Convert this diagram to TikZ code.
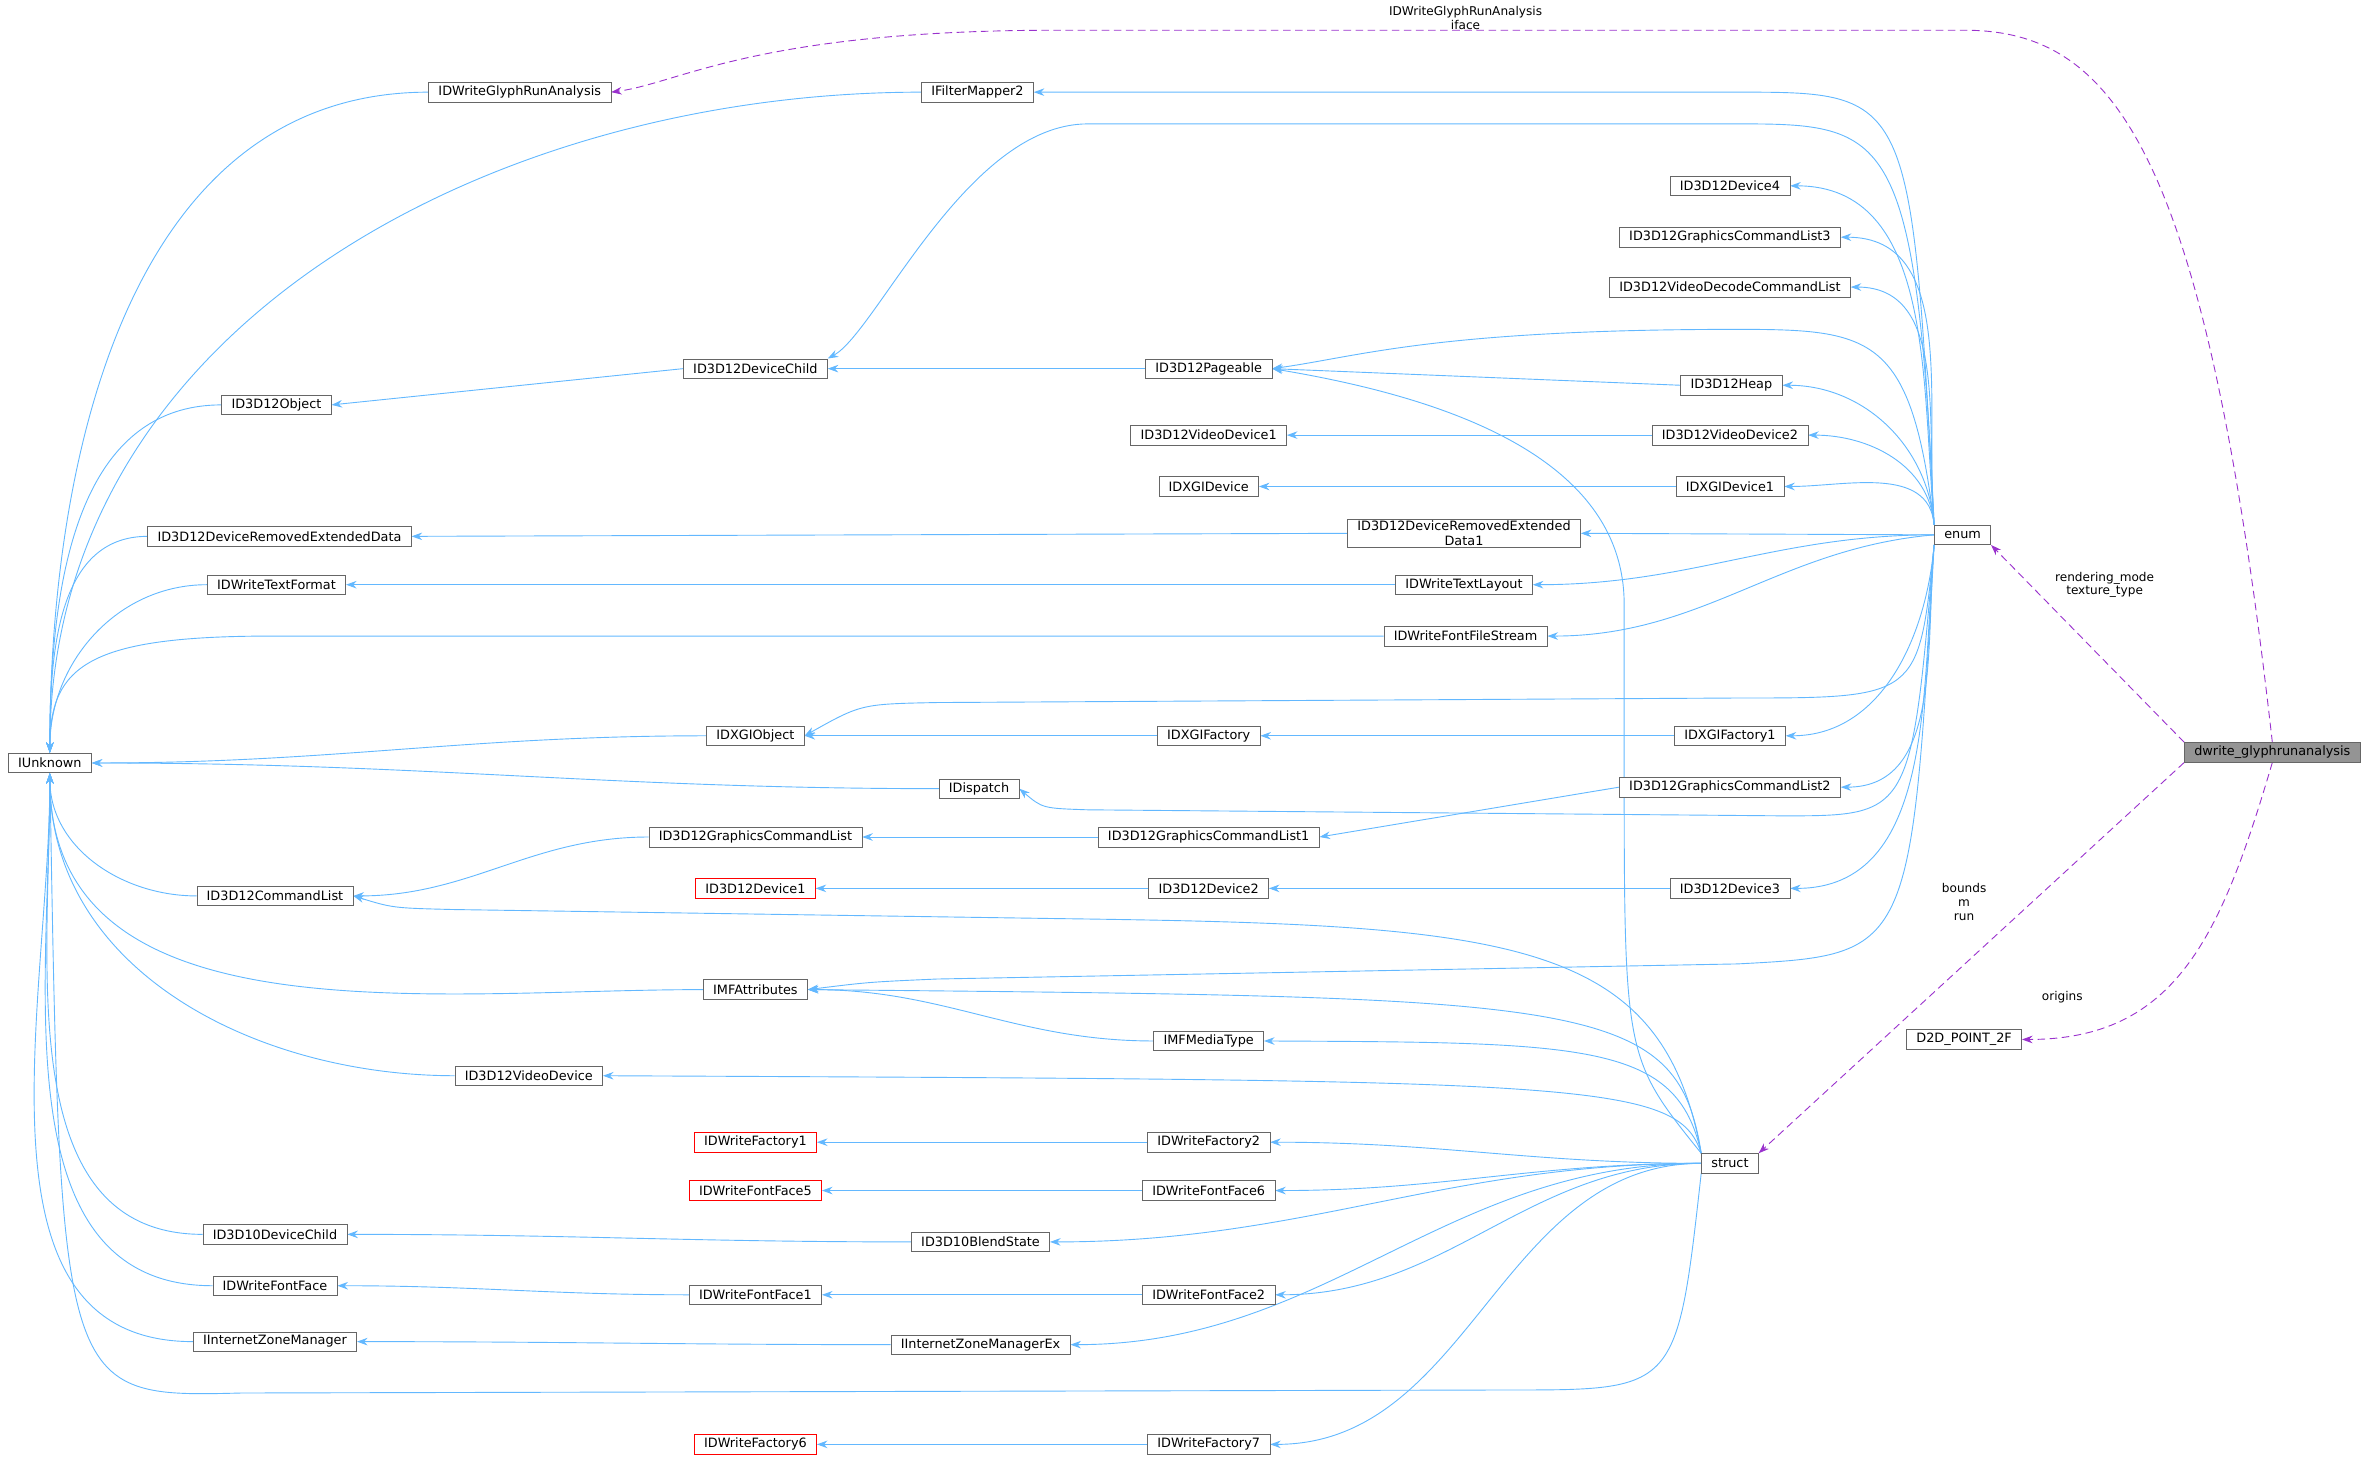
\documentclass[tikz,border=0pt]{standalone}
\usepackage{fontspec}
\setmainfont{DejaVu Sans}
\usetikzlibrary{arrows.meta,backgrounds}
\definecolor{eb}{HTML}{63B8FF}
\definecolor{ep}{HTML}{9A32CD}
\begin{document}
\begin{tikzpicture}[x=1pt,y=1pt,
  every node/.style={font=\fontsize{8.5}{10}\selectfont},
  n/.style={draw=black!60, fill=white, inner xsep=6.5pt, inner ysep=2pt, minimum height=13pt, align=center},
  r/.style={n, draw=red},
  inh/.style={draw=eb, line width=0.6pt, -{Stealth[length=7pt,width=5pt]}},
  usg/.style={draw=ep, line width=0.6pt, dashed, dash pattern=on 5pt off 3pt, -{Stealth[length=7pt,width=5pt]}},
  lab/.style={align=center, inner sep=0pt, font=\fontsize{8}{9}\selectfont}]
\useasboundingbox (0,0) rectangle (1568,-973);
% nodes
\node[n] (IU) at (33,-505) {IUnknown};
\node[n] (GRA) at (344,-61) {IDWriteGlyphRunAnalysis};
\node[n] (FM2) at (647,-61) {IFilterMapper2};
\node[n] (Obj) at (183,-268) {ID3D12Object};
\node[n] (DC) at (500,-244) {ID3D12DeviceChild};
\node[n] (DRED) at (185,-355) {ID3D12DeviceRemovedExtendedData};
\node[n] (TF) at (183,-387) {IDWriteTextFormat};
\node[n] (XO) at (500,-487) {IDXGIObject};
\node[n] (Disp) at (648,-522) {IDispatch};
\node[n] (GCL) at (500,-554) {ID3D12GraphicsCommandList};
\node[n] (CL) at (182,-593) {ID3D12CommandList};
\node[r] (D1) at (500,-588) {ID3D12Device1};
\node[n] (MFA) at (500,-655) {IMFAttributes};
\node[n] (VD) at (350,-712) {ID3D12VideoDevice};
\node[r] (F1) at (500,-756) {IDWriteFactory1};
\node[r] (FF5) at (500,-788) {IDWriteFontFace5};
\node[n] (D10) at (182,-817) {ID3D10DeviceChild};
\node[n] (BS) at (649,-822) {ID3D10BlendState};
\node[n] (FF) at (182,-851) {IDWriteFontFace};
\node[n] (FF1) at (500,-857) {IDWriteFontFace1};
\node[n] (IZM) at (182,-888) {IInternetZoneManager};
\node[n] (IZMX) at (649,-890) {IInternetZoneManagerEx};
\node[r] (F6) at (500,-956) {IDWriteFactory6};
\node[n] (Pg) at (800,-244) {ID3D12Pageable};
\node[n] (VD1) at (800,-288) {ID3D12VideoDevice1};
\node[n] (XD) at (800,-322) {IDXGIDevice};
\node[n] (XF) at (800,-487) {IDXGIFactory};
\node[n] (GCL1) at (800,-554) {ID3D12GraphicsCommandList1};
\node[n] (D2) at (800,-588) {ID3D12Device2};
\node[n] (MT) at (800,-689) {IMFMediaType};
\node[n] (F2) at (800,-756) {IDWriteFactory2};
\node[n] (FF6) at (800,-788) {IDWriteFontFace6};
\node[n] (FF2) at (800,-857) {IDWriteFontFace2};
\node[n] (F7) at (800,-956) {IDWriteFactory7};
\node[n] (D4) at (1145,-123) {ID3D12Device4};
\node[n] (GCL3) at (1145,-157) {ID3D12GraphicsCommandList3};
\node[n] (VDCL) at (1145,-190) {ID3D12VideoDecodeCommandList};
\node[n] (Heap) at (1146,-255) {ID3D12Heap};
\node[n] (VD2) at (1145,-288) {ID3D12VideoDevice2};
\node[n] (XD1) at (1145,-322) {IDXGIDevice1};
\node[n, inner ysep=1pt] (DRED1) at (969,-353) {ID3D12DeviceRemovedExtended\\Data1};
\node[n] (TL) at (969,-387) {IDWriteTextLayout};
\node[n] (FFS) at (970,-421) {IDWriteFontFileStream};
\node[n] (XF1) at (1145,-487) {IDXGIFactory1};
\node[n] (GCL2) at (1145,-521) {ID3D12GraphicsCommandList2};
\node[n] (D3) at (1145,-588) {ID3D12Device3};
\node[n] (enum) at (1299,-354) {enum};
\node[n] (struct) at (1145,-770) {struct};
\node[n] (P2F) at (1300,-688) {D2D\_POINT\_2F};
\node[n, fill=black!42, draw=black!60] (dw) at (1504,-498) {dwrite\_glyphrunanalysis};
\begin{scope}[on background layer]
% -> IUnknown
\foreach \c in {GRA,FM2,Obj,DRED,TF}
  \draw[inh] (\c.west) to[out=180,in=90] (IU.north);
\draw[inh] (FFS.west) -- (180,-421) .. controls (60,-421) and (33,-440) .. (IU.north);
\draw[inh] (XO.west) to[out=180,in=0] (IU.east);
\draw[inh] (Disp.west) to[out=180,in=0] (IU.east);
\foreach \c in {CL,MFA,VD,D10,FF,IZM}
  \draw[inh] (\c.west) to[out=180,in=-90] (IU.south);
\draw[inh] (struct.south west) .. controls (1110,-920) .. (1000,-920) -- (160,-922) .. controls (40,-925) .. (IU.south);
% horizontal inheritance
\draw[inh] (DC.west) -- (Obj.east);
\draw[inh] (Pg.west) -- (DC.east);
\draw[inh] (Heap.west) -- (Pg.east);
\draw[inh] (VD2.west) -- (VD1.east);
\draw[inh] (XD1.west) -- (XD.east);
\draw[inh] (DRED1.west) -- (DRED.east);
\draw[inh] (TL.west) -- (TF.east);
\draw[inh] (XF.west) -- (XO.east);
\draw[inh] (XF1.west) -- (XF.east);
\draw[inh] (GCL2.west) -- (GCL1.east);
\draw[inh] (GCL1.west) -- (GCL.east);
\draw[inh] (GCL.west) to[out=180,in=0] (CL.east);
\draw[inh] (D2.west) -- (D1.east);
\draw[inh] (D3.west) -- (D2.east);
\draw[inh] (MT.west) to[out=180,in=0] (MFA.east);
\draw[inh] (F2.west) -- (F1.east);
\draw[inh] (FF6.west) -- (FF5.east);
\draw[inh] (BS.west) to[out=180,in=0] (D10.east);
\draw[inh] (FF1.west) to[out=180,in=0] (FF.east);
\draw[inh] (FF2.west) -- (FF1.east);
\draw[inh] (IZMX.west) to[out=180,in=0] (IZM.east);
\draw[inh] (F7.west) -- (F6.east);
% enum
\draw[inh] (enum.north west) .. controls (1265,-61) .. (1150,-61) -- (FM2.east);
\draw[inh] (enum.north west) .. controls (1268,-85) and (1250,-82) .. (1150,-82) -- (720,-82) .. controls (640,-82) and (580,-220) .. (DC.north east);
\foreach \c in {D4,GCL3,VDCL,Heap,VD2,XD1}
  \draw[inh] (enum.north west) to[out=95,in=0] (\c.east);
\draw[inh] (enum.north west) .. controls (1265,-222) and (1240,-218) .. (1150,-218) .. controls (950,-218) and (900,-236) .. (Pg.east);
\draw[inh] (enum.west) -- (DRED1.east);
\draw[inh] (enum.west) to[out=180,in=0] (TL.east);
\draw[inh] (enum.west) to[out=185,in=0] (FFS.east);
\draw[inh] (enum.south west) .. controls (1270,-462) .. (1150,-462) -- (620,-465) .. controls (570,-466) .. (XO.east);
\foreach \c in {XF1,GCL2,D3}
  \draw[inh] (enum.south west) to[out=-95,in=0] (\c.east);
\draw[inh] (enum.south west) .. controls (1265,-540) .. (1180,-540) -- (720,-536) .. controls (690,-535) .. (Disp.east);
\draw[inh] (enum.south west) .. controls (1265,-632) .. (1150,-638) -- (620,-648) .. controls (575,-650) .. (MFA.east);
% struct
\draw[inh] (struct.north west) .. controls (1075,-700) .. (1075,-500) -- (1075,-400) .. controls (1075,-300) and (950,-262) .. (Pg.east);
\draw[inh] (struct.north west) .. controls (1100,-620) and (1000,-612) .. (700,-608) -- (300,-602) .. controls (260,-601) .. (CL.east);
\foreach \c/\ty in {MFA/-660,VD/-715,MT/-690}
  \draw[inh] (struct.north west) .. controls (1110,\ty) and (1050,\ty) .. (\c.east);
\foreach \c in {F2,FF6,BS,FF2,IZMX,F7}
  \draw[inh] (struct.west) to[out=180,in=0] (\c.east);
% usage
\draw[usg] (dw.north) .. controls (1460,-100) and (1400,-20) .. (1300,-20) -- (700,-20) .. controls (500,-20) and (450,-55) .. (GRA.east);
\draw[usg] (dw.north west) -- (enum.south east);
\draw[usg] (dw.south west) -- (struct.north east);
\draw[usg] (dw.south) .. controls (1470,-620) and (1440,-688) .. (P2F.east);
\end{scope}
\node[lab] at (970,-12) {IDWriteGlyphRunAnalysis\\iface};
\node[lab] at (1393,-387) {rendering\_mode\\texture\_type};
\node[lab] at (1300,-597) {bounds\\m\\run};
\node[lab] at (1365,-660) {origins};
\end{tikzpicture}
\end{document}
